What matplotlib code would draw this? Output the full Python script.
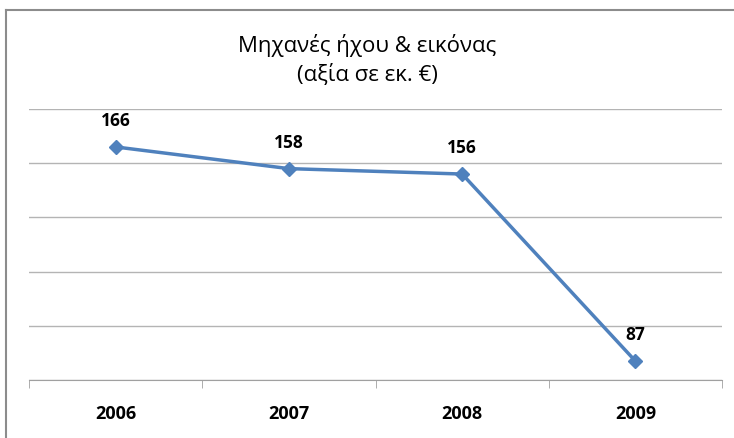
import matplotlib.pyplot as plt
from matplotlib.lines import Line2D

years = ['2006', '2007', '2008', '2009']
values = [166, 158, 156, 87]

plt.rcParams['font.family'] = ['Open Sans', 'DejaVu Sans']

fig = plt.figure(figsize=(7.34, 4.39), dpi=100)
ax = fig.add_axes([29 / 734, 1 - 381 / 439, (722 - 29) / 734, (381 - 110) / 439])

x = [i + 0.5 for i in range(len(years))]
ax.plot(x, values, color='#4F81BD', linewidth=2.5, marker='D', markersize=7, zorder=3)

for xi, v in zip(x, values):
    ax.annotate(str(v), (xi, v), xytext=(0, 13), textcoords='offset points',
                ha='center', va='bottom', fontsize=12.5, fontweight='bold')

ax.set_xlim(0, len(years))
ax.set_ylim(80, 180)
ax.set_yticks(range(80, 181, 20))
ax.yaxis.grid(True, color='#B4B4B4', linewidth=1)
ax.set_axisbelow(True)
ax.tick_params(axis='y', left=False, labelleft=False)

ax.set_xticks(x)
ax.set_xticklabels(years, fontsize=13, fontweight='bold')
ax.set_xticks(range(len(years) + 1), minor=True)
ax.tick_params(axis='x', which='major', length=0, pad=17)
ax.tick_params(axis='x', which='minor', length=6, color='#A0A0A0', direction='out')

for s in ['top', 'right', 'left']:
    ax.spines[s].set_visible(False)
ax.spines['bottom'].set_color('#A0A0A0')

fig.text(0.5, 1 - 60 / 439, 'Μηχανές ήχου & εικόνας\n(αξία σε εκ. €)',
         ha='center', va='center', fontsize=16, linespacing=1.4)

# outer chart frame (left and top edges)
fig.add_artist(Line2D([6 / 734, 6 / 734], [0, 1 - 11 / 439], color='#8C8C8C', linewidth=1.5))
fig.add_artist(Line2D([6 / 734, 1], [1 - 11 / 439, 1 - 11 / 439], color='#8C8C8C', linewidth=1.5))

fig.savefig('out.png', dpi=100)
